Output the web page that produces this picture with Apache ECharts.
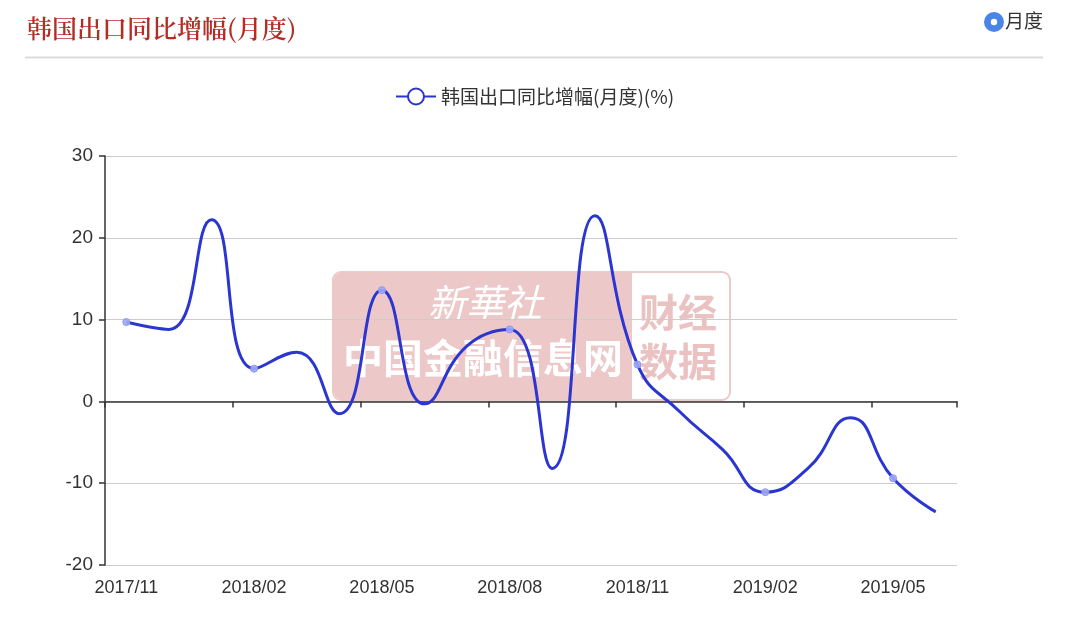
<!DOCTYPE html>
<html>
<head>
<meta charset="utf-8">
<script src="https://cdn.jsdelivr.net/npm/echarts@6/dist/echarts.min.js"></script>
<style>
html,body{margin:0;padding:0;background:#fff;}
#main{width:1080px;height:627px;}
</style>
</head>
<body>
<div id="main"></div>
<script>
const categories = ['2017/11','2017/12','2018/01','2018/02','2018/03','2018/04','2018/05','2018/06','2018/07','2018/08','2018/09','2018/10','2018/11','2018/12','2019/01','2019/02','2019/03','2019/04','2019/05','2019/06'];
const exportYoY = [9.7, 8.8, 22.2, 4.0, 6.0, -1.5, 13.6, -0.3, 6.8, 8.8, -8.2, 22.7, 4.5, -1.3, -5.9, -11.1, -8.2, -2.0, -9.4, -13.5];
const yTicks = { min: -20, max: 30, interval: 10 };
const seriesName = '韩国出口同比增幅(月度)(%)';
const chartTitle = '韩国出口同比增幅(月度)';

const lineColor = '#2b36d0';
const cjk = '"Noto Sans CJK SC", "Noto Sans", sans-serif';
const latin = '"Liberation Sans", Arial, sans-serif';

const seriesData = exportYoY.map((v, i) => (
  i % 3 === 0 ? { value: v, symbol: 'circle' } : { value: v, symbol: 'none' }
));

const chart = echarts.init(document.getElementById('main'), null, { renderer: 'canvas' });
chart.setOption({
  backgroundColor: '#fff',
  animation: false,
  title: {
    text: chartTitle,
    left: 22, top: 11,
    textStyle: { color: '#b42d25', fontSize: 25, fontWeight: 600, fontFamily: '"Noto Serif CJK SC", ' + cjk }
  },
  legend: {
    top: 82, left: 390,
    itemWidth: 40, itemHeight: 20, itemGap: 10,
    textStyle: { color: '#333', fontSize: 19, fontFamily: cjk },
    itemStyle: { color: lineColor, borderColor: lineColor, borderWidth: 2 },
    lineStyle: { color: lineColor, width: 2 },
    data: [{ name: seriesName, icon: 'inherit' }]
  },
  graphic: [
    { type: 'line', z: 10, shape: { x1: 25, y1: 57.5, x2: 1043, y2: 57.5 }, style: { stroke: '#dcdcdc', lineWidth: 2 } },
    { type: 'circle', z: 10, shape: { cx: 994, cy: 22, r: 10 }, style: { fill: '#4a84e6' } },
    { type: 'circle', z: 11, shape: { cx: 994, cy: 22, r: 3.2 }, style: { fill: '#fff' } },
    { type: 'text', z: 10, left: 1005, top: 11, style: { text: '月度', fill: '#333', font: '19px ' + cjk } },
    // watermark
    { type: 'rect', z: -1, shape: { x: 333, y: 272, width: 397, height: 128, r: 8 }, style: { fill: '#fff', stroke: '#eccaca', lineWidth: 2 } },
    { type: 'rect', z: -1, shape: { x: 334, y: 273, width: 298, height: 126, r: [7, 0, 0, 7] }, style: { fill: '#ecc8c8' } },
    { type: 'text', z: -1, left: 428, top: 284, style: { text: '新華社', fill: '#fff', font: 'italic 38px ' + cjk } },
    { type: 'text', z: -1, left: 343, top: 338, style: { text: '中国金融信息网', fill: '#fff', font: 'bold 40px ' + cjk } },
    { type: 'text', z: -1, left: 639, top: 293, style: { text: '财经', fill: '#ebc2c2', font: 'bold 39px ' + cjk } },
    { type: 'text', z: -1, left: 639, top: 342, style: { text: '数据', fill: '#ebc2c2', font: 'bold 39px ' + cjk } }
  ],
  grid: { left: 105, right: 123, top: 156, bottom: 62 },
  xAxis: [
    {
      type: 'category', data: categories, position: 'bottom', boundaryGap: true,
      axisLine: { show: false, onZero: false },
      axisTick: { show: false },
      axisLabel: { interval: 2, color: '#333', fontSize: 18, fontFamily: latin, margin: 14 },
      splitLine: { show: false }
    },
    {
      type: 'category', data: categories, position: 'bottom', boundaryGap: true,
      axisLine: { show: true, onZero: true, lineStyle: { color: '#333', width: 1.5 } },
      axisTick: { show: true, interval: 2, length: 6, lineStyle: { color: '#333', width: 1.5 } },
      axisLabel: { show: false },
      splitLine: { show: false }
    }
  ],
  yAxis: {
    type: 'value', min: yTicks.min, max: yTicks.max, interval: yTicks.interval,
    axisLine: { show: true, lineStyle: { color: '#333', width: 1.5 } },
    axisTick: { show: true, length: 6, lineStyle: { color: '#333', width: 1.5 } },
    axisLabel: { color: '#333', fontSize: 19, fontFamily: latin, margin: 12 },
    splitLine: { show: true, lineStyle: { color: '#cccccc', width: 1 } }
  },
  series: [{
    name: seriesName,
    type: 'line',
    xAxisIndex: 0,
    data: seriesData,
    smooth: 0.5,
    symbol: 'emptyCircle',
    symbolSize: 7,
    showAllSymbol: true,
    z: 5,
    lineStyle: { color: lineColor, width: 3 },
    itemStyle: { color: 'rgba(160,168,245,0.9)', borderColor: '#8e98ee', borderWidth: 1 }
  }]
});
</script>
</body>
</html>
